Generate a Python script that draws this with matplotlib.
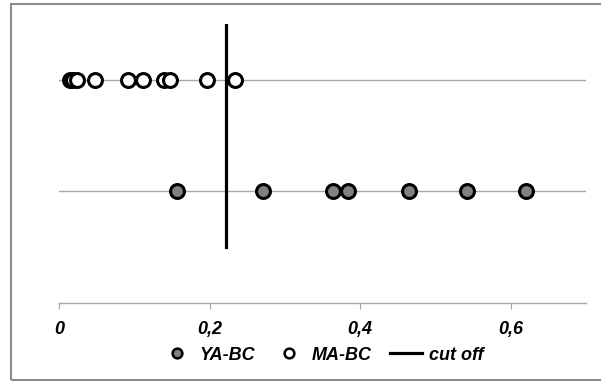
import matplotlib

matplotlib.use("Agg")
import matplotlib.pyplot as plt
from matplotlib.lines import Line2D
from matplotlib.patches import Rectangle

# values
YA_BC = [0.157, 0.271, 0.364, 0.384, 0.465, 0.542, 0.620]
MA_BC = [0.015, 0.019, 0.024, 0.048, 0.092, 0.111, 0.139, 0.148, 0.197, 0.234]
YA_ROW = 1
MA_ROW = 2
CUT_OFF = 0.222
CUT_SPAN = [0.5, 2.5]
XTICKS = [0, 0.2, 0.4, 0.6]
XTICK_LABELS = ["0", "0,2", "0,4", "0,6"]

FONT = dict(family="Liberation Sans", weight="bold", style="italic", size=13)


def main() -> None:
    fig = plt.figure(figsize=(6.01, 3.81), dpi=100)
    ax = fig.add_axes([59 / 601, 78 / 381, 527 / 601, 279 / 381])

    ax.axhline(YA_ROW, color="#a6a6a6", lw=1.0, zorder=1)
    ax.axhline(MA_ROW, color="#a6a6a6", lw=1.0, zorder=1)

    ax.plot(YA_BC, [YA_ROW] * len(YA_BC), "o", ls="none", ms=10,
            mfc="#808080", mec="black", mew=2.2, zorder=3)
    ax.plot(MA_BC, [MA_ROW] * len(MA_BC), "o", ls="none", ms=10,
            mfc="white", mec="black", mew=2.2, zorder=3)
    ax.plot([CUT_OFF, CUT_OFF], CUT_SPAN, color="black", lw=2.3, zorder=2)

    ax.set_xlim(0, 0.7)
    ax.set_ylim(0, 2.5)
    for side in ("top", "right", "left"):
        ax.spines[side].set_visible(False)
    ax.spines["bottom"].set_color("#a6a6a6")
    ax.spines["bottom"].set_linewidth(1.0)
    ax.set_yticks([])
    ax.set_xticks(XTICKS)
    ax.set_xticklabels(XTICK_LABELS, **FONT)
    ax.tick_params(axis="x", length=4, color="#a6a6a6", pad=9)

    handles = [
        Line2D([], [], marker="o", ls="none", ms=7, mfc="#808080", mec="black", mew=1.8),
        Line2D([], [], marker="o", ls="none", ms=7, mfc="white", mec="black", mew=1.8),
        Line2D([], [], color="black", lw=2.3),
    ]
    fig.legend(
        handles,
        ["YA-BC", "MA-BC", "cut off"],
        loc="center",
        bbox_to_anchor=(322 / 601, 26 / 381),
        ncol=3,
        frameon=False,
        prop=FONT,
        handlelength=1.8,
        handletextpad=0.35,
        columnspacing=1.0,
    )

    fig.patches.append(
        Rectangle((11 / 601, 1 / 381), 595 / 601, 376 / 381, transform=fig.transFigure,
                  fill=False, edgecolor="#8c8c8c", lw=1.5)
    )

    fig.savefig("out.png", dpi=100)


if __name__ == "__main__":
    main()
